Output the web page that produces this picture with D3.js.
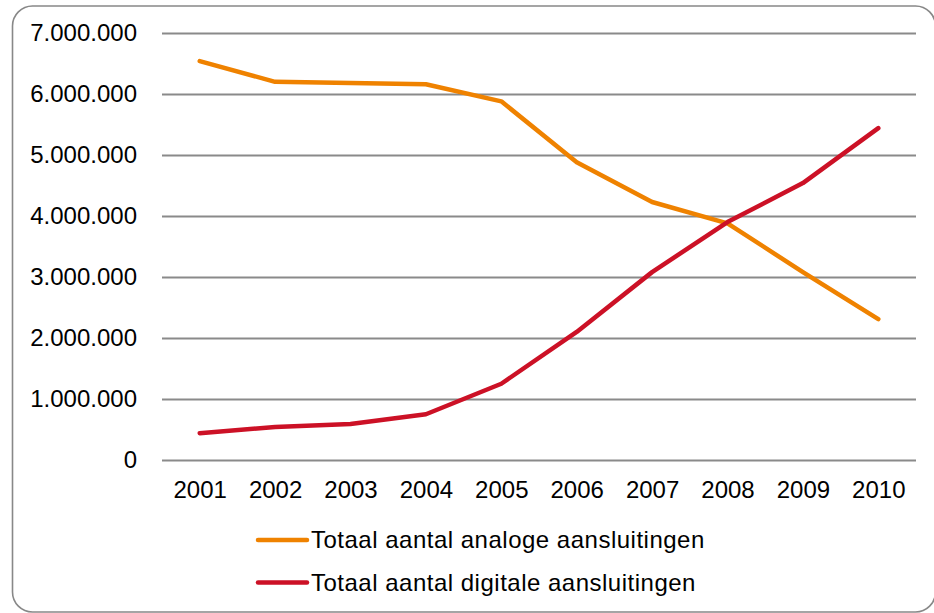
<!DOCTYPE html>
<html>
<head>
<meta charset="utf-8">
<script src="https://cdn.jsdelivr.net/npm/d3@7"></script>
<style>
  body { margin: 0; background: #fff; }
  text { font-family: "Liberation Sans", Arial, sans-serif; fill: #000; }
</style>
</head>
<body>
<div id="chart"></div>
<script>
// data
const years = ['2001', '2002', '2003', '2004', '2005', '2006', '2007', '2008', '2009', '2010']
const analoog = [6540000, 6200000, 6180000, 6160000, 5880000, 4880000, 4230000, 3880000, 3080000, 2310000]
const digitaal = [440000, 540000, 590000, 750000, 1250000, 2100000, 3080000, 3900000, 4540000, 5440000]
const yTicks = [0, 1000000, 2000000, 3000000, 4000000, 5000000, 6000000, 7000000]
const seriesNames = ['Totaal aantal analoge aansluitingen', 'Totaal aantal digitale aansluitingen']
const colors = ['#ef8200', '#cc1126']

const width = 934,
  height = 613
const plot = { left: 162, right: 916, top: 33, bottom: 460 }

let svg = d3.select('#chart')
  .append('svg')
  .attr('width', width)
  .attr('height', height)

// rounded frame
svg.append('rect')
  .attr('x', 12.5).attr('y', 6)
  .attr('width', 923).attr('height', 606)
  .attr('rx', 20)
  .attr('fill', 'none')
  .attr('stroke', '#888')
  .attr('stroke-width', 1.6)

const x = d3.scalePoint()
  .domain(years)
  .range([plot.left, plot.right])
  .padding(0.5)

const y = d3.scaleLinear()
  .domain([0, 7000000])
  .range([plot.bottom, plot.top])

const fmt = d => d3.format(',')(d).replace(/,/g, '.')

// gridlines + y labels
let yAxis = svg.append('g')
  .attr('transform', `translate(${plot.left},0)`)
  .call(d3.axisLeft(y).tickValues(yTicks).tickFormat(fmt)
    .tickSize(-(plot.right - plot.left)).tickPadding(25))
yAxis.select('.domain').remove()
yAxis.selectAll('line').attr('stroke', '#8a8a8a').attr('stroke-width', 2)
yAxis.selectAll('text').attr('font-size', 24).attr('font-family', '"Liberation Sans", Arial, sans-serif')

// x labels
let xAxis = svg.append('g')
  .attr('transform', `translate(0,${plot.bottom})`)
  .call(d3.axisBottom(x).tickSize(0).tickPadding(21))
xAxis.select('.domain').remove()
xAxis.selectAll('text').attr('font-size', 24).attr('font-family', '"Liberation Sans", Arial, sans-serif')

// lines
const line = d3.line()
  .x((d, i) => x(years[i]))
  .y(d => y(d))

;[analoog, digitaal].forEach((s, k) => {
  svg.append('path')
    .datum(s)
    .attr('d', line)
    .attr('fill', 'none')
    .attr('stroke', colors[k])
    .attr('stroke-width', 4.5)
    .attr('stroke-linecap', 'round')
    .attr('stroke-linejoin', 'round')
})

// legend
let legend = svg.append('g')
seriesNames.forEach((name, k) => {
  const ly = 540 + k * 42.5
  legend.append('line')
    .attr('x1', 258).attr('x2', 307)
    .attr('y1', ly).attr('y2', ly)
    .attr('stroke', colors[k])
    .attr('stroke-width', 4.5)
    .attr('stroke-linecap', 'round')
  legend.append('text')
    .attr('x', 311).attr('y', ly + 8)
    .attr('font-size', 24)
    .attr('letter-spacing', 0.5)
    .text(name)
})
</script>
</body>
</html>
